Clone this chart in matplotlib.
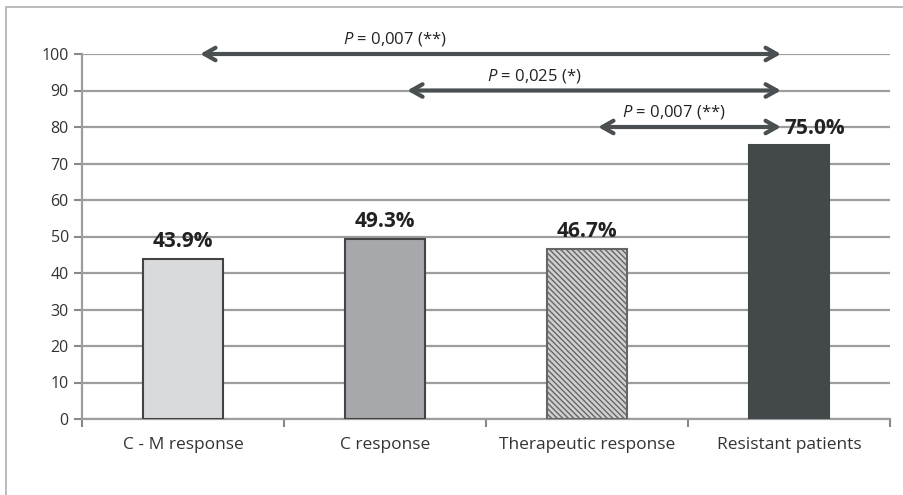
import matplotlib.pyplot as plt
import matplotlib.patches as mpatches
import numpy as np

categories = ['C - M response', 'C response', 'Therapeutic response', 'Resistant patients']
values = [43.9, 49.3, 46.7, 75.0]
bar_colors = ['#d9dadc', '#a6a8ab', '#d0d0d0', '#43484b']
# comparisons: start category, end category, level, p value, stars
comp_from = [0, 1, 2]
comp_to = [3, 3, 3]
comp_level = [100, 90, 80]
comp_pvals = ['0,007', '0,025', '0,007']
comp_stars = ['**', '*', '**']

plt.rcParams['font.family'] = ['Open Sans', 'DejaVu Sans']
plt.rcParams['mathtext.fontset'] = 'custom'
plt.rcParams['mathtext.it'] = 'Open Sans:italic'
plt.rcParams['mathtext.rm'] = 'Open Sans'
plt.rcParams['hatch.color'] = '#777777'
plt.rcParams['hatch.linewidth'] = 1.0

fig = plt.figure(figsize=(9.04, 4.95), dpi=100)
fig.patches.append(mpatches.Rectangle((6 / 904, -0.1), 1.2, 1 - 7 / 495 + 0.1,
                                      transform=fig.transFigure, fill=False,
                                      edgecolor='#b0b0b0', lw=1.2))
ax = fig.add_axes([82 / 904, 1 - 419 / 495, 808 / 904, 365 / 495])

x = np.arange(len(categories))
bars = ax.bar(x, values, width=0.4, color=bar_colors, edgecolor='#444444', linewidth=1.5, zorder=3)
bars[2].set_hatch('\\\\\\\\\\\\')
bars[2].set_edgecolor('#666666')
bars[3].set_edgecolor(bar_colors[3])

# last label nudged right so it clears the arrow head
label_dx = [0, 0, 0, 0.13]
for xi, v, dx in zip(x, values, label_dx):
    ax.text(xi + dx, v + 1.8, f'{v:.1f}%', ha='center', va='bottom', fontsize=15,
            fontweight='bold', color='#222222', zorder=5)

ax.set_xlim(-0.5, len(categories) - 0.5)
ax.set_ylim(0, 100)
ax.set_yticks(np.arange(0, 101, 10))
ax.yaxis.grid(True, color='#9d9d9d', lw=1.6, zorder=0)
ax.set_axisbelow(True)
ax.set_xticks(x)
ax.set_xticklabels(categories, fontsize=12.5, color='#333333')
ax.set_xticks(np.arange(-0.5, len(categories), 1.0), minor=True)
ax.tick_params(axis='x', which='major', length=0, pad=13)
ax.tick_params(axis='x', which='minor', length=6, color='#888888', width=1.5)
ax.tick_params(axis='y', length=6, color='#888888', width=1.5, labelsize=11.5, labelcolor='#333333')
for s in ['top', 'right']:
    ax.spines[s].set_visible(False)
for s in ['left', 'bottom']:
    ax.spines[s].set_color('#9d9d9d')
    ax.spines[s].set_linewidth(1.6)

arrow_start = [0.085, 0.11, 0.055]
label_pos = [1.05, 1.74, 2.43]
for f, t, lvl, p, st, x0, lx in zip(comp_from, comp_to, comp_level, comp_pvals, comp_stars,
                                     arrow_start, label_pos):
    ax.annotate('', xy=(t - 0.04, lvl), xytext=(f + x0, lvl),
                arrowprops=dict(arrowstyle='<->,head_length=0.8,head_width=0.45',
                                color='#4a4f52', lw=3, shrinkA=0, shrinkB=0),
                zorder=4, annotation_clip=False)
    ax.text(lx, lvl + 1.6, r'$\it{P}$' + f' = {p} ({st})',
            ha='center', va='bottom', fontsize=12, color='#222222', zorder=5)

fig.savefig('out.png', dpi=100)
